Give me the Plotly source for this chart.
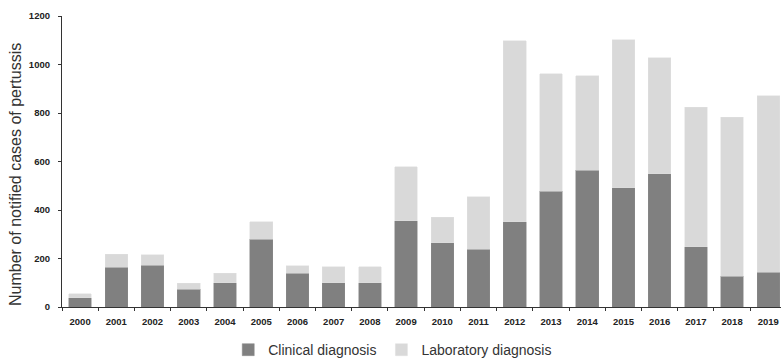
import plotly.graph_objects as go

years = [str(y) for y in range(2000, 2020)]
clinical = [38, 164, 172, 73, 99, 279, 140, 99, 99, 355,
            266, 238, 351, 477, 563, 491, 549, 249, 127, 144]
total = [55, 217, 216, 98, 139, 351, 171, 165, 165, 579,
         370, 455, 1097, 962, 954, 1102, 1028, 824, 782, 871]
laboratory = [t - c for t, c in zip(total, clinical)]

fig = go.Figure()
fig.add_trace(go.Bar(x=years, y=clinical, name="Clinical diagnosis",
                     marker=dict(color="#808080", line=dict(color="#8a8a8a", width=0.5))))
fig.add_trace(go.Bar(x=years, y=laboratory, name="Laboratory diagnosis",
                     marker=dict(color="#d9d9d9", line=dict(color="#e0e0e0", width=0.5))))

fig.add_annotation(text="Number of notified cases of pertussis", textangle=-90,
                   xref="paper", yref="paper", x=-0.0654, y=0.457,
                   xanchor="center", yanchor="middle", showarrow=False,
                   font=dict(family="Liberation Sans", size=16, color="#333333"))

fig.update_layout(
    barmode="stack",
    bargap=0.375,
    width=781, height=358,
    margin=dict(l=62, r=0, t=16, b=51, autoexpand=False),
    plot_bgcolor="white", paper_bgcolor="white",
    showlegend=True,
    legend=dict(orientation="h", x=0.46, xanchor="center", y=-0.148, yanchor="middle",
                font=dict(family="Liberation Sans", size=14, color="#333333"),
                itemwidth=30, traceorder="normal"),
    yaxis=dict(range=[0, 1200], dtick=200, showgrid=False, zeroline=False,
               showline=True, linecolor="#333333", linewidth=1.2,
               ticks="outside", ticklen=3, tickcolor="#333333", automargin=False,
               ticklabelstandoff=6,
               tickfont=dict(family="Liberation Sans", size=9.5, color="#222222", weight="bold")),
    xaxis=dict(type="category", range=[-0.5, 19.35], showgrid=False, automargin=False,
               showline=True, linecolor="#333333", linewidth=1.2,
               ticks="outside", ticklen=3, tickcolor="#333333", tickson="boundaries",
               ticklabelstandoff=5, ticklabeloverflow="allow",
               tickfont=dict(family="Liberation Sans", size=9.5, color="#222222", weight="bold")),
)

fig.write_html("out.html",
               config={"displayModeBar": False},
               post_script="document.body.style.margin='0';document.body.style.overflow='hidden';")
